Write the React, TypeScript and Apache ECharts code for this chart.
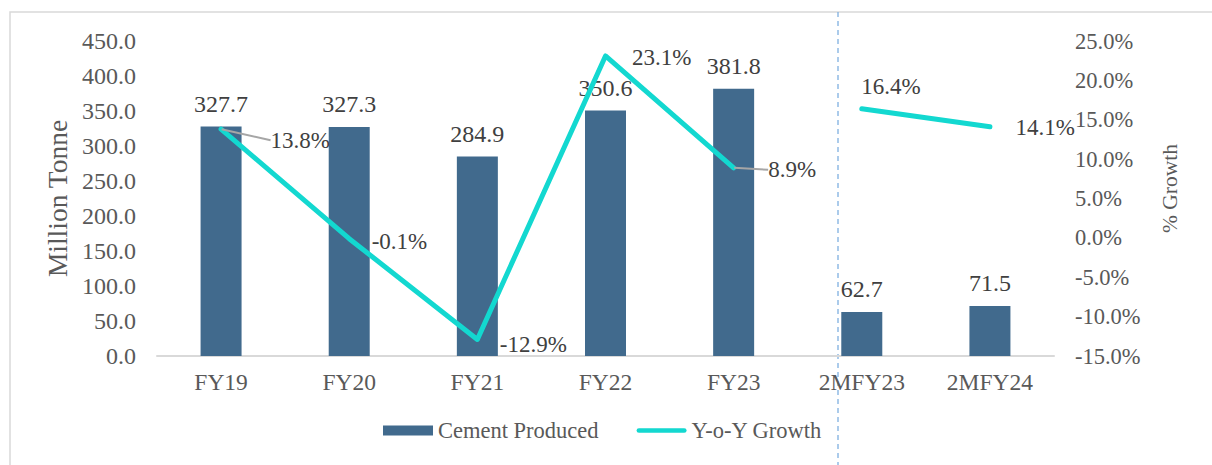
import React, { useEffect, useRef } from "react";
import * as echarts from "echarts";

const categories = ["FY19", "FY20", "FY21", "FY22", "FY23", "2MFY23", "2MFY24"];
const cementProduced = [327.7, 327.3, 284.9, 350.6, 381.8, 62.7, 71.5];
const growthAnnual = [13.8, -0.1, -12.9, 23.1, 8.9, null, null];
const growthTwoMonth = [null, null, null, null, null, 16.4, 14.1];

const FONT = "'Liberation Serif', 'Times New Roman', serif";
const BAR = "#416a8d";
const LINE = "#13d8d0";
const LINE_ICON = "path://M2.5,0 L50.5,0 A2.5,2.5 0 0 1 50.5,5 L2.5,5 A2.5,2.5 0 0 1 2.5,0 Z";

export default function App() {
  const ref = useRef<HTMLDivElement>(null);
  useEffect(() => {
    if (!ref.current) return;
    const chart = echarts.init(ref.current, undefined, { renderer: "svg" });
    const annualMoves: number[][] = [[44, 11], [17, 3], [17, 5], [21, 2], [29, 2]];
    const lineLabel = {
      show: true,
      position: "right",
      distance: 5,
      fontFamily: FONT,
      fontSize: 23,
      color: "#404040",
      formatter: (p: any) => (p.value == null ? "" : p.value.toFixed(1) + "%"),
    };
    chart.setOption({
      animation: false,
      textStyle: { fontFamily: FONT },
      grid: { left: 157, right: 158, top: 41, bottom: 109 },
      legend: {
        bottom: 18,
        left: 378,
        itemWidth: 50,
        itemHeight: 10,
        itemGap: 38,
        textStyle: { fontFamily: FONT, fontSize: 22.5, color: "#595959" },
        data: [
          { name: "Cement Produced", icon: "rect" },
          { name: "Y-o-Y Growth", icon: LINE_ICON, itemStyle: { color: LINE } },
        ],
      },
      xAxis: {
        type: "category",
        data: categories,
        axisLine: { lineStyle: { color: "#d9d9d9", width: 2 } },
        axisTick: { show: false },
        axisLabel: { fontFamily: FONT, fontSize: 23.5, color: "#595959", margin: 14 },
      },
      yAxis: [
        {
          type: "value",
          min: 0,
          max: 450,
          interval: 50,
          name: "Million Tonne",
          nameLocation: "middle",
          nameGap: 82,
          nameRotate: 90,
          nameTextStyle: { fontFamily: FONT, fontSize: 27.5, color: "#595959" },
          splitLine: { show: false },
          axisLine: { show: false },
          axisTick: { show: false },
          axisLabel: {
            fontFamily: FONT,
            fontSize: 24,
            color: "#595959",
            margin: 21,
            formatter: (v: number) => v.toFixed(1),
          },
        },
        {
          type: "value",
          min: -15,
          max: 25,
          interval: 5,
          name: "% Growth",
          nameLocation: "middle",
          nameGap: 105,
          nameRotate: 90,
          nameTextStyle: { fontFamily: FONT, fontSize: 21.5, color: "#595959", padding: [0, 0, 0, 20] },
          splitLine: { show: false },
          axisLine: { show: false },
          axisTick: { show: false },
          axisLabel: {
            fontFamily: FONT,
            fontSize: 22.5,
            color: "#595959",
            margin: 21,
            formatter: (v: number) => v.toFixed(1) + "%",
          },
        },
      ],
      series: [
        {
          name: "Cement Produced",
          type: "bar",
          data: cementProduced,
          barWidth: 41,
          itemStyle: { color: BAR },
          label: {
            show: true,
            position: "top",
            distance: 11,
            fontFamily: FONT,
            fontSize: 24,
            color: "#404040",
            formatter: (p: any) => p.value.toFixed(1),
          },
        },
        {
          name: "Y-o-Y Growth",
          type: "line",
          yAxisIndex: 1,
          data: growthAnnual.map((v, i) => ({
            value: v,
            labelLine: { show: i === 0 || i === 4 },
          })),
          symbol: "circle",
          symbolSize: 1,
          showSymbol: true,
          connectNulls: false,
          lineStyle: { color: LINE, width: 5, cap: "round", join: "round" },
          itemStyle: { color: LINE },
          label: lineLabel,
          labelLine: { show: false, lineStyle: { color: "#a6a6a6", width: 2 } },
          labelLayout: (params: any) => {
            const m = annualMoves[params.dataIndex];
            return m ? { dx: m[0], dy: m[1] } : {};
          },
        },
        {
          name: "Y-o-Y Growth",
          type: "line",
          yAxisIndex: 1,
          data: growthTwoMonth.map((v, i) => ({
            value: v,
            label: { offset: i === 5 ? [-6, -22] : [20, 1] },
          })),
          symbol: "circle",
          symbolSize: 1,
          showSymbol: true,
          lineStyle: { color: LINE, width: 5, cap: "round", join: "round" },
          itemStyle: { color: LINE },
          label: lineLabel,
        },
      ],
      graphic: [
        {
          type: "rect",
          shape: { x: 10, y: 12, width: 1240, height: 480 },
          style: { fill: "none", stroke: "#d9d9d9", lineWidth: 1.5 },
          silent: true,
        },
        {
          type: "line",
          shape: { x1: 838, y1: 12, x2: 838, y2: 465 },
          style: { stroke: "#7fb0e0", lineWidth: 1.3, lineDash: [5, 4] },
          silent: true,
        },
      ],
    });
    return () => chart.dispose();
  }, []);
  return (
    <div
      ref={ref}
      style={{ position: "fixed", left: 0, top: 0, width: 1212, height: 465, background: "#fff" }}
    />
  );
}
